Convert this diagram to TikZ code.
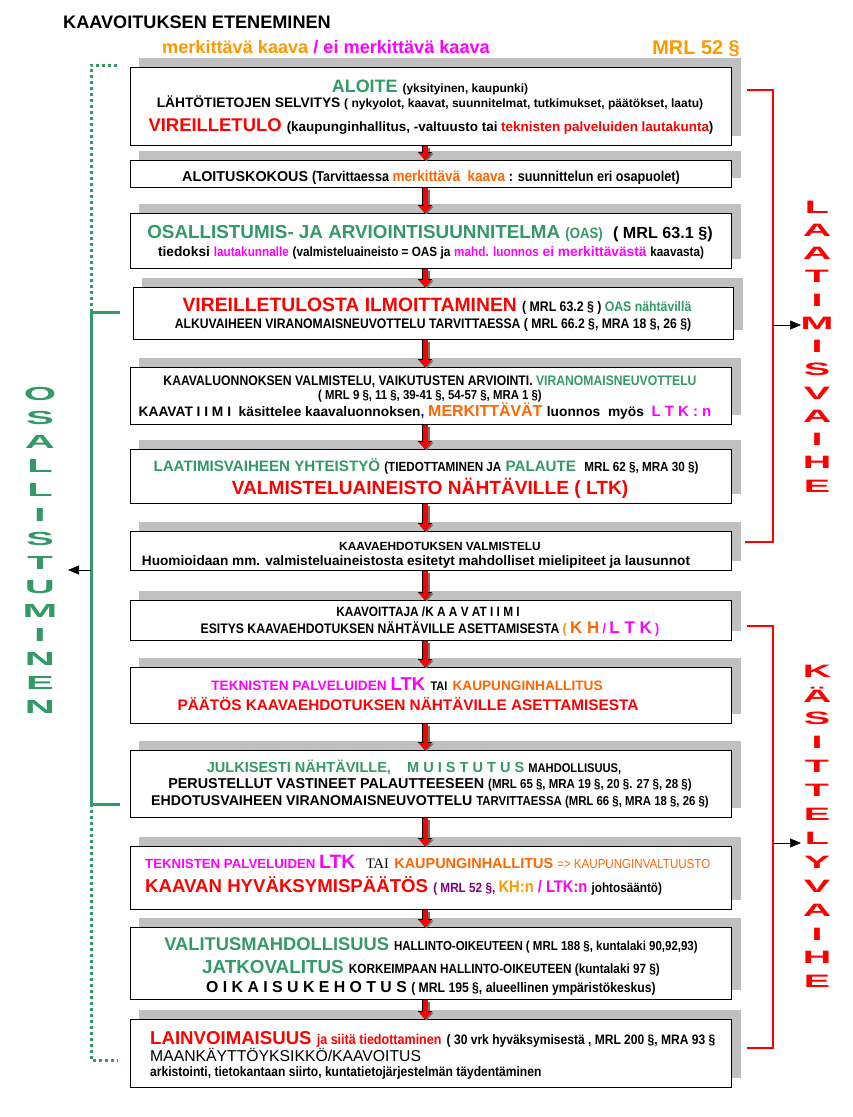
\documentclass[tikz,border=0pt]{standalone}
\usepackage{fontspec}
\setmainfont{Liberation Sans}
\newfontfamily\narrowfont{Liberation Sans}[FakeStretch=0.88]
\newfontfamily\serifont{Liberation Serif}
\newfontfamily\widefont{Liberation Sans}[FakeStretch=2.2]
\usetikzlibrary{arrows.meta, shadows}
\definecolor{osgreen}{HTML}{339966}
\definecolor{kred}{HTML}{FF0000}
\definecolor{kmagenta}{HTML}{FF00FF}
\definecolor{korange}{HTML}{FF9900}
\definecolor{kdorange}{HTML}{FF6600}
\definecolor{kpurple}{HTML}{800080}
\definecolor{kblue}{HTML}{0000FF}
\definecolor{shadowgray}{HTML}{C0C0C0}
\newcommand{\fsz}[1]{\fontsize{#1}{#1}\selectfont}
\newcommand{\nar}{\narrowfont\bfseries}

\begin{document}
\begin{tikzpicture}[x=1bp, y=-1bp,
  box/.style={draw=black, line width=1pt, fill=white, inner sep=0pt, anchor=north west,
    general shadow={fill=shadowgray, shadow xshift=9bp, shadow yshift=10bp}},
  txt/.style={anchor=base, inner sep=0pt, font=\bfseries},
  txtl/.style={txt, anchor=base west},
  flow/.style={draw=kred, line width=5bp, -{Triangle[width=12bp, length=7bp]},
    preaction={draw=black, line width=6.4bp, -{Triangle[width=14bp, length=8bp]}}},
  flowshade/.style={draw=black!55, line width=6bp, -{Triangle[width=14bp, length=8bp]}},
  osbrace/.style={draw=osgreen, line width=3bp},
  osdots/.style={draw=osgreen, line width=3bp, dash pattern=on 3bp off 3bp},
  phbrace/.style={draw=kred, line width=2.5bp},
  pointer/.style={draw=black, line width=0.6bp, -{Triangle[width=9bp, length=11bp]}},
  vletter/.style={inner sep=0pt, font=\widefont\bfseries\fsz{18}}]

% Page
\useasboundingbox (0,0) rectangle (853,1117);
\fill[white] (0,0) rectangle (853,1117);

% Title and header
\node[txtl, font=\bfseries\fsz{18.2}] (title) at (63,28) {KAAVOITUKSEN ETENEMINEN};
\node[txtl, font=\bfseries\fsz{18.2}] (kind) at (162,53)
  {\color{korange}merkittävä kaava \color{kmagenta}/ ei merkittävä kaava};
\node[txt, anchor=base east, font=\bfseries\fsz{20}, text=korange] (mrl) at (740,54) {MRL 52 §};

% Boxes (x1, y1, width, height in px)
\node[box, minimum width=601bp, minimum height=78bp] (b1) at (130,67) {};
\node[box, minimum width=601bp, minimum height=27bp] (b2) at (130,160) {};
\node[box, minimum width=601bp, minimum height=55bp] (b3) at (130,213) {};
\node[box, minimum width=600bp, minimum height=52bp] (b4) at (133,287) {};
\node[box, minimum width=601bp, minimum height=57bp] (b5) at (130,367) {};
\node[box, minimum width=601bp, minimum height=54bp] (b6) at (130,449) {};
\node[box, minimum width=601bp, minimum height=39bp] (b7) at (130,531) {};
\node[box, minimum width=601bp, minimum height=40bp] (b8) at (130,600) {};
\node[box, minimum width=601bp, minimum height=56bp] (b9) at (130,667) {};
\node[box, minimum width=601bp, minimum height=67bp] (b10) at (130,750) {};
\node[box, minimum width=601bp, minimum height=63bp] (b11) at (130,846) {};
\node[box, minimum width=601bp, minimum height=72bp] (b12) at (130,927) {};
\node[box, minimum width=601bp, minimum height=68bp] (b13) at (130,1019) {};

% Flow arrows on one vertical axis (shadow first)
\coordinate (axis) at (425,0);
\coordinate (shaxis) at (426.5,1.5);
\foreach \a/\b in {b1/b2, b2/b3, b3/b4, b4/b5, b5/b6, b6/b7, b7/b8, b8/b9, b9/b10, b10/b11, b11/b12, b12/b13}{
  \draw[flowshade] ([yshift=-1.5bp]shaxis |- \a.south) -- ([yshift=-1.5bp]shaxis |- \b.north);
  \draw[flow] (axis |- \a.south) -- (axis |- \b.north);
}

% Box 1
\node[txt] (t1a) at (430,92.5)
  {\color{osgreen}\fsz{18}ALOITE \color{black}\fsz{12}(yksityinen, kaupunki)};
\node[txt] (t1b) at (430,107)
  {\fsz{13.8}LÄHTÖTIETOJEN SELVITYS \fsz{12.1}( nykyolot, kaavat, suunnitelmat, tutkimukset, päätökset, laatu)};
\node[txt] (t1c) at (431,131.5)
  {\color{kred}\fsz{18.5}VIREILLETULO \color{black}\fsz{13.5}(kaupunginhallitus, -valtuusto tai \color{kred}teknisten palveluiden lautakunta\color{black})};

% Box 2
\node[txt] (t2) at (431,181)
  {\fsz{14.4}ALOITUSKOKOUS \nar\fsz{14.4}(Tarvittaessa \color{kdorange}\fsz{15.4}merkittävä\ \ kaava \color{black}\fsz{14.4}: suunnittelun eri osapuolet)};

% Box 3
\node[txt] (t3a) at (430,238)
  {\color{osgreen}\fsz{18.9}OSALLISTUMIS- JA ARVIOINTISUUNNITELMA {\nar\fsz{15}(OAS)}\ \ \color{black}\fsz{16.2}( MRL 63.1 §)};
\node[txt] (t3b) at (431,256.5)
  {\fsz{13.8}tiedoksi {\nar\fsz{13.4}\color{kmagenta}lautakunnalle} {\nar\fsz{13.4}(valmisteluaineisto = OAS ja} {\nar\fsz{13.4}\color{kmagenta}mahd. luonnos} \color{kmagenta}ei merkittävästä {\nar\fsz{13.4}\color{black}kaavasta)}};

% Box 4
\node[txt] (t4a) at (437,311)
  {\color{kred}\fsz{19.4}VIREILLETULOSTA ILMOITTAMINEN \nar\fsz{14}\color{black}( MRL 63.2 § ) \color{osgreen}OAS nähtävillä};
\node[txt] (t4b) at (433,328.5)
  {\nar\fsz{13.9}ALKUVAIHEEN VIRANOMAISNEUVOTTELU TARVITTAESSA ( MRL 66.2 §, MRA 18 §, 26 §)};

% Box 5
\node[txt] (t5a) at (430,385)
  {\nar\fsz{13.9}KAAVALUONNOKSEN VALMISTELU, VAIKUTUSTEN ARVIOINTI. \color{osgreen}VIRANOMAISNEUVOTTELU};
\node[txt] (t5b) at (430,399)
  {\nar\fsz{13}( MRL 9 §, 11 §, 39-41 §, 54-57 §, MRA 1 §)};
\node[txt] (t5c) at (425,416)
  {\fsz{13.8}KAAVAT I I M I\ \ käsittelee kaavaluonnoksen\color{kblue}, \color{kdorange}\fsz{16}MERKITTÄVÄT \color{black}\fsz{13.8}luonnos\ \ myös\ \ \color{kmagenta}\fsz{15}L T K : n};

% Box 6
\node[txt] (t6a) at (426,471)
  {\color{osgreen}\fsz{15.2}LAATIMISVAIHEEN YHTEISTYÖ {\nar\color{black}\fsz{13.3}(TIEDOTTAMINEN JA} PALAUTE\ \ {\nar\color{black}\fsz{13.3}MRL 62 §, MRA 30 §)}};
\node[txt] (t6b) at (430,494.5)
  {\color{kred}\fsz{19.2}VALMISTELUAINEISTO NÄHTÄVILLE ( LTK)};

% Box 7
\node[txt] (t7a) at (440,550) {\fsz{11.9}KAAVAEHDOTUKSEN VALMISTELU};
\node[txt] (t7b) at (416,565)
  {\fsz{13.7}Huomioidaan mm. valmisteluaineistosta esitetyt mahdolliset mielipiteet ja lausunnot};

% Box 8
\node[txt] (t8a) at (428,616) {\nar\fsz{13.5}KAAVOITTAJA /K A A V AT I I M I};
\node[txt] (t8b) at (430,633.5)
  {\nar\fsz{13.9}ESITYS KAAVAEHDOTUKSEN NÄHTÄVILLE ASETTAMISESTA \color{korange}( {\normalfont\bfseries\color{kdorange}\fsz{17}K H} \color{kmagenta}/ {\normalfont\bfseries\fsz{17}L T K} )};

% Box 9
\node[txt] (t9a) at (407,690.5)
  {\color{kmagenta}\fsz{13.7}TEKNISTEN PALVELUIDEN \fsz{18.7}LTK {\nar\color{black}\fsz{12.5}TAI} \color{kdorange}\fsz{13.7}KAUPUNGINHALLITUS};
\node[txt] (t9b) at (408,710.5)
  {\color{kred}\fsz{15.4}PÄÄTÖS KAAVAEHDOTUKSEN NÄHTÄVILLE ASETTAMISESTA};

% Box 10
\node[txt] (t10a) at (414,772)
  {\color{osgreen}\fsz{14.6}JULKISESTI NÄHTÄVILLE,\ \ \ \ M U I S T U T U S {\nar\color{black}\fsz{12.7}MAHDOLLISUUS,}};
\node[txt] (t10b) at (430,788.5)
  {\fsz{14.4}PERUSTELLUT VASTINEET PALAUTTEESEEN {\nar\fsz{13.1}(MRL 65 §, MRA 19 §, 20 §. 27 §, 28 §)}};
\node[txt] (t10c) at (430,805)
  {\fsz{14.2}EHDOTUSVAIHEEN VIRANOMAISNEUVOTTELU {\nar\fsz{13}TARVITTAESSA (MRL 66 §, MRA 18 §, 26 §)}};

% Box 11
\node[txtl] (t11a) at (145,868)
  {\color{kmagenta}\fsz{13.3}TEKNISTEN PALVELUIDEN \fsz{19.4}LTK\ \ {\serifont\mdseries\color{black}\fsz{14.5}TAI} \color{kdorange}\fsz{14.5}KAUPUNGINHALLITUS {\narrowfont\mdseries\fsz{13.2}=> KAUPUNGINVALTUUSTO}};
\node[txtl] (t11b) at (145,892)
  {\color{kred}\fsz{18.7}KAAVAN HYVÄKSYMISPÄÄTÖS \nar\fsz{13.4}\color{kpurple}( MRL 52 §, \color{korange}\fsz{16.8}KH:n \color{kmagenta}/ LTK:n \color{black}\fsz{13.4}johtosääntö)};

% Box 12
\node[txt] (t12a) at (431,950.5)
  {\color{osgreen}\fsz{18.4}VALITUSMAHDOLLISUUS {\nar\color{black}\fsz{13.1}HALLINTO-OIKEUTEEN ( MRL 188 §, kuntalaki 90,92,93)}};
\node[txt] (t12b) at (431,973)
  {\color{osgreen}\fsz{18.9}JATKOVALITUS {\nar\color{black}\fsz{13.4}KORKEIMPAAN HALLINTO-OIKEUTEEN (kuntalaki 97 §)}};
\node[txt] (t12c) at (431,992)
  {\fsz{15.9}O I K A I S U K E H O T U S {\nar\fsz{13.9}( MRL 195 §, alueellinen ympäristökeskus)}};

% Box 13
\node[txtl] (t13a) at (150,1044)
  {\color{kred}\fsz{18.7}LAINVOIMAISUUS {\nar\fsz{14.3}ja siitä tiedottaminen} {\nar\color{black}\fsz{13.75}( 30 vrk hyväksymisestä , MRL 200 §, MRA 93 §}};
\node[txtl, font=\fsz{15.8}] (t13b) at (150,1061) {MAANKÄYTTÖYKSIKKÖ/KAAVOITUS};
\node[txtl] (t13c) at (150,1076)
  {\nar\fsz{13.75}arkistointi, tietokantaan siirto, kuntatietojärjestelmän täydentäminen};

% Left bracket: osallistuminen
\coordinate (ostop) at (120,312);
\coordinate (osbot) at (120,804);
\coordinate (osmid) at (91,570);
\coordinate (osout) at (68,570);
\draw[osbrace] (ostop) -- (91,312) -- (91,804) -- (osbot);
\draw[osdots] (91,312) -- (91,65) -- (118,65);
\draw[osdots] (91,804) -- (91,1060) -- (118,1060);
\draw[pointer] (osmid) -- (osout);
\foreach \ch [count=\i from 0] in {O,S,A,L,L,I,S,T,U,M,I,N,E,N}
  \node[vletter, text=osgreen, font=\widefont\bfseries\fsz{19}] (os\i) at (40,{394+24.1*\i}) {\ch};

% Right bracket: laatimisvaihe
\coordinate (latop) at (747,90);
\coordinate (labot) at (745,542);
\coordinate (lamid) at (773,325);
\coordinate (laout) at (801,325);
\draw[phbrace] (latop) -- (773,90) -- (773,542) -- (labot);
\draw[pointer] (lamid) -- (laout);
\foreach \ch [count=\i from 0] in {L,A,A,T,I,M,I,S,V,A,I,H,E}
  \node[vletter, text=kred] (la\i) at (817,{207+23.25*\i}) {\ch};

% Right bracket: kasittelyvaihe
\coordinate (katop) at (747,626);
\coordinate (kabot) at (747,1048);
\coordinate (kamid) at (773,843);
\coordinate (kaout) at (801,843);
\draw[phbrace] (katop) -- (773,626) -- (773,1048) -- (kabot);
\draw[pointer] (kamid) -- (kaout);
\foreach \ch [count=\i from 0] in {K,Ä,S,I,T,T,E,L,Y,V,A,I,H,E}
  \node[vletter, text=kred] (ka\i) at (817,{671+23.9*\i}) {\ch};

\end{tikzpicture}
\end{document}
